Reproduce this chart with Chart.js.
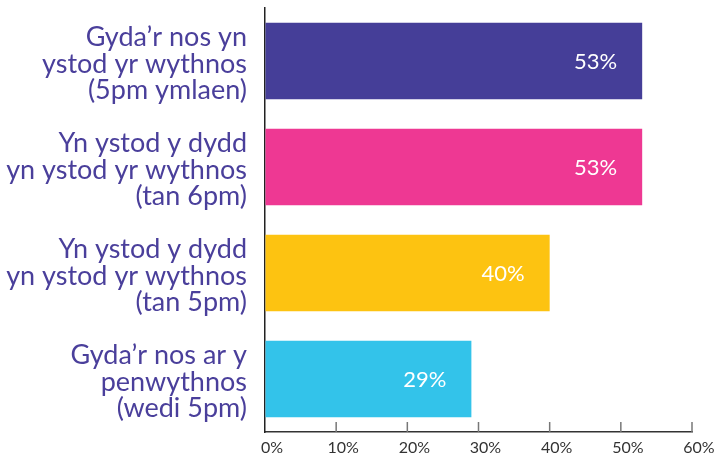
<!DOCTYPE html>
<html>
<head>
<meta charset="utf-8">
<script src="https://cdn.jsdelivr.net/npm/chart.js@4.4.1/dist/chart.umd.min.js"></script>
<style>
  html, body { margin: 0; padding: 0; background: #ffffff; }
  #wrap { width: 720px; height: 455px; position: relative; }
</style>
</head>
<body>
<div id="wrap"><canvas id="c"></canvas></div>
<script>
const categories = [
  ["Gyda’r nos yn", "ystod yr wythnos", "(5pm ymlaen)"],
  ["Yn ystod y dydd", "yn ystod yr wythnos", "(tan 6pm)"],
  ["Yn ystod y dydd", "yn ystod yr wythnos", "(tan 5pm)"],
  ["Gyda’r nos ar y", "penwythnos", "(wedi 5pm)"]
];
const values = [53, 53, 40, 29];
const barColors = ["#453e98", "#ee3893", "#fdc311", "#33c3ea"];
const xTicks = [0, 10, 20, 30, 40, 50, 60];

const FONT = "Lato, 'Open Sans', sans-serif";

const valueLabels = {
  id: 'valueLabels',
  afterDatasetsDraw(chart) {
    const ctx = chart.ctx;
    const meta = chart.getDatasetMeta(0);
    ctx.save();
    ctx.fillStyle = '#ffffff';
    ctx.font = '22px ' + FONT;
    ctx.textAlign = 'right';
    ctx.textBaseline = 'middle';
    meta.data.forEach((bar, i) => {
      ctx.fillText(values[i] + '%', bar.x - 25, bar.y + 1);
    });
    ctx.restore();
  }
};

const innerTicks = {
  id: 'innerTicks',
  afterDraw(chart) {
    const ctx = chart.ctx;
    const xs = chart.scales.x;
    ctx.save();
    ctx.strokeStyle = '#777777';
    ctx.lineWidth = 1.5;
    xs.ticks.forEach((t, i) => {
      if (i === 0) return;
      const x = xs.getPixelForTick(i);
      ctx.beginPath();
      ctx.moveTo(x, xs.top);
      ctx.lineTo(x, xs.top - 10);
      ctx.stroke();
    });
    ctx.restore();
  }
};

new Chart(document.getElementById('c'), {
  type: 'bar',
  data: {
    labels: categories,
    datasets: [{
      data: values,
      backgroundColor: barColors,
      borderWidth: 0,
      categoryPercentage: 1,
      barPercentage: 0.72
    }]
  },
  options: {
    indexAxis: 'y',
    responsive: true,
    maintainAspectRatio: false,
    animation: false,
    layout: { padding: { top: 8, right: 28, bottom: 0, left: 0 } },
    plugins: { legend: { display: false }, tooltip: { enabled: false } },
    scales: {
      x: {
        min: 0, max: 60,
        afterBuildTicks(scale) { scale.ticks = xTicks.map(v => ({ value: v })); },
        afterFit(scale) { scale.height = 23; scale.paddingLeft = 0; scale.paddingRight = 0; },
        grid: { drawOnChartArea: false, drawTicks: false },
        border: { display: true, color: '#333333', width: 1.5 },
        ticks: {
          padding: 6,
          labelOffset: 7,
          color: '#333333',
          font: { family: FONT, size: 16 },
          callback: v => v + '%'
        }
      },
      y: {
        afterFit(scale) { scale.width = 265; scale.paddingTop = 0; scale.paddingBottom = 0; },
        grid: { drawOnChartArea: false, drawTicks: false },
        border: { display: true, color: '#222222', width: 1.5 },
        ticks: {
          padding: 18,
          labelOffset: 3,
          autoSkip: false,
          color: '#4a3f9b',
          font: { family: FONT, size: 27, lineHeight: 0.98 }
        }
      }
    }
  },
  plugins: [valueLabels, innerTicks]
});
</script>
</body>
</html>
